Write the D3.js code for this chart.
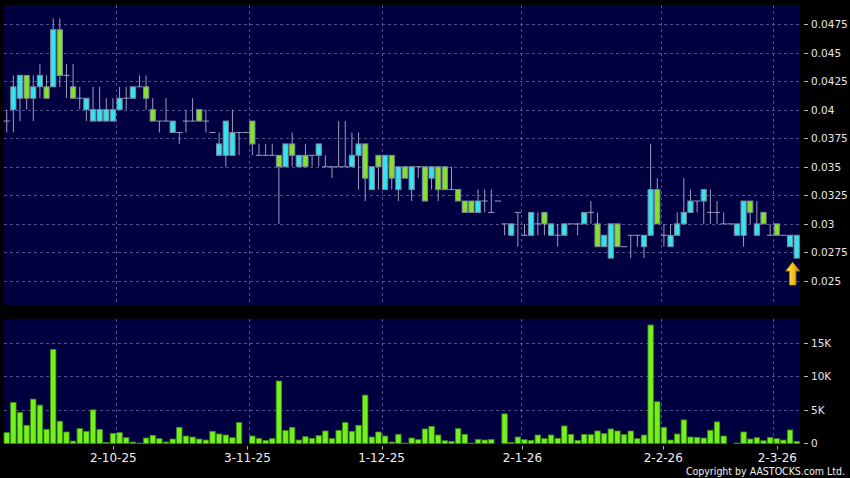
<!DOCTYPE html>
<html><head><meta charset="utf-8">
<script src="https://cdn.jsdelivr.net/npm/d3@7"></script>
<style>html,body{margin:0;padding:0;background:#000;} svg{display:block;}</style>
</head><body>
<svg id="c" width="850" height="478"></svg>
<script>
// ---- data (daily candles, oldest first) ----
const opens  = [.039,.040,.041,.043,.041,.042,.042,.042,.047,.043,.042,.041,.040,.039,.039,.039,.039,.040,.041,.041,
                .042,.042,.040,.039,.039,.038,.038,.039,.039,.040,.039,.038,.036,.036,.036,.038,.038,.039,.036,.036,
                .036,.036,.035,.037,.035,.036,.036,.036,.035,.035,.035,.035,.035,.036,.037,.033,.036,.033,.036,.033,
                .035,.033,.035,.035,.034,.035,.035,.033,.033,.032,.032,.031,.032,.031,.032,.030,.029,.031,.029,.029,
                .030,.031,.029,.029,.029,.030,.030,.030,.031,.030,.028,.027,.030,.028,.029,.029,.028,.029,.033,.029,
                .028,.029,.030,.031,.032,.032,.031,.031,.030,.030,.029,.029,.032,.029,.031,.029,.030,.029,.028,.027];
const highs  = [.040,.043,.043,.043,.043,.044,.043,.048,.048,.044,.044,.042,.041,.042,.042,.041,.041,.042,.042,.042,
                .043,.043,.041,.039,.041,.039,.038,.040,.041,.040,.040,.038,.038,.039,.040,.038,.038,.039,.037,.037,
                .037,.036,.037,.038,.036,.037,.036,.037,.036,.035,.039,.039,.038,.038,.037,.035,.036,.036,.036,.035,
                .035,.035,.035,.035,.035,.035,.035,.035,.033,.032,.032,.033,.033,.033,.032,.030,.030,.031,.030,.031,
                .031,.031,.030,.030,.030,.030,.030,.031,.032,.031,.029,.030,.030,.028,.029,.029,.029,.037,.034,.030,
                .030,.031,.034,.033,.032,.033,.033,.032,.031,.030,.030,.032,.032,.032,.031,.030,.030,.029,.029,.029];
const lows   = [.038,.038,.039,.040,.039,.041,.041,.042,.042,.041,.041,.040,.039,.039,.039,.039,.039,.040,.040,.041,
                .042,.040,.039,.038,.039,.038,.037,.038,.039,.039,.038,.038,.036,.035,.036,.036,.038,.036,.036,.036,
                .036,.030,.035,.035,.035,.035,.035,.035,.035,.034,.035,.035,.035,.033,.032,.033,.033,.033,.033,.032,
                .034,.032,.034,.032,.033,.032,.033,.033,.032,.031,.031,.031,.031,.031,.032,.029,.029,.028,.029,.029,
                .029,.029,.029,.028,.029,.030,.029,.030,.030,.028,.028,.027,.028,.028,.027,.028,.027,.029,.030,.028,
                .028,.029,.030,.031,.031,.030,.030,.030,.030,.030,.029,.028,.030,.029,.030,.029,.029,.029,.028,.027];
const closes = [.039,.042,.043,.041,.042,.043,.041,.047,.043,.043,.041,.041,.041,.040,.040,.040,.040,.041,.041,.042,
                .042,.041,.039,.039,.039,.039,.038,.039,.039,.039,.039,.038,.037,.039,.038,.038,.038,.037,.036,.036,
                .036,.035,.037,.036,.036,.035,.036,.037,.035,.035,.035,.035,.036,.037,.034,.035,.035,.036,.034,.035,
                .034,.035,.035,.032,.035,.033,.033,.033,.032,.031,.031,.032,.032,.031,.032,.030,.030,.031,.029,.031,
                .030,.030,.030,.029,.030,.030,.030,.031,.031,.028,.029,.030,.028,.028,.029,.029,.029,.033,.030,.029,
                .029,.030,.031,.032,.032,.033,.031,.031,.030,.030,.030,.032,.031,.030,.030,.029,.029,.029,.029,.029];
// volume in thousands of shares
const volumes = [1.6,6.1,4.6,2.7,6.6,5.7,2.1,14.0,3.3,1.7,0.35,2.2,1.8,5.0,2.1,0.15,1.5,1.6,0.85,0.2,
                 0.05,0.8,1.2,0.7,0.2,0.65,2.4,1.1,0.95,0.65,0.5,1.8,1.4,1.25,0.85,3.1,0,1.1,0.75,0.45,
                 0.7,9.3,1.9,2.4,0.5,1.0,0.75,1.15,1.85,0.7,1.95,3.1,1.8,2.7,7.2,0.95,1.7,1.1,0.2,1.35,
                 0.05,0.8,0.55,2.15,2.55,1.25,0.4,0.3,2.2,1.35,0.05,0.6,0.5,0.6,0,4.4,0.15,0.95,0.55,0.45,
                 1.25,0.7,1.25,0.75,2.6,1.35,0.45,1.35,1.3,1.85,1.45,2.15,1.85,1.3,1.85,0.7,1.25,17.65,6.2,2.4,
                 0.5,1.4,3.5,0.95,0.9,0.8,1.95,3.2,1.1,0,0.05,1.7,0.65,0.85,0.4,0.9,0.7,0.5,2.0,0.3];
const dateLabels = ["2-10-25","3-11-25","1-12-25","2-1-26","2-2-26","2-3-26"];
const dateIndex  = [16,36,56,77,98,115];
const priceTicks = [0.025,0.0275,0.03,0.0325,0.035,0.0375,0.04,0.0425,0.045,0.0475];
const priceTickLabels = ["0.025","0.0275","0.03","0.0325","0.035","0.0375","0.04","0.0425","0.045","0.0475"];
const volTicks = [0,5,10,15];
const volTickLabels = ["0","5K","10K","15K"];

// ---- layout ----
const svg = d3.select("#c");
const n = closes.length;
const panelL = 4, panelR = 800;
const pTop = 5, pBot = 305, vTop = 319, vBot = 444;
const NAVY = "#000040", GRID = "#50508c";
const UP = "#35e3f0", DOWN = "#84e22c", WICK = "#9c9cbc", EDGE = "#7c8a9a";

const x = d3.scaleBand().domain(d3.range(n)).range([3.4, 800]);
const step = x.step();
const cx = i => x(i) + step / 2;
const y = d3.scaleLinear().domain([0.022894, 0.049164]).range([pBot, pTop]);
const yv = d3.scaleLinear().domain([0, 18.55]).range([443.4, vTop]);
const xl = d3.scaleLinear().domain([0, n - 1]).range([6, 6 + 6.707 * (n - 1)]);
const px = v => Math.round(v) + 0.5;

// panels
svg.append("rect").attr("x", panelL).attr("y", pTop).attr("width", panelR - panelL).attr("height", pBot - pTop).attr("fill", NAVY);
svg.append("rect").attr("x", panelL).attr("y", vTop).attr("width", panelR - panelL).attr("height", vBot - vTop).attr("fill", NAVY);

const grid = svg.append("g").attr("stroke", GRID).attr("stroke-width", 1).attr("stroke-dasharray", "3,3");
priceTicks.forEach(t => grid.append("line").attr("x1", panelL).attr("x2", panelR).attr("y1", px(y(t))).attr("y2", px(y(t))));
volTicks.filter(t => t > 0).forEach(t => grid.append("line").attr("x1", panelL).attr("x2", panelR).attr("y1", px(yv(t))).attr("y2", px(yv(t))));
dateIndex.forEach(i => {
  const gx = px(x(i) + step);
  grid.append("line").attr("x1", gx).attr("x2", gx).attr("y1", pTop).attr("y2", pBot);
  grid.append("line").attr("x1", gx).attr("x2", gx).attr("y1", vTop).attr("y2", vBot);
});

// candles
const bw = 5.2;
const cg = svg.append("g");
d3.range(n).forEach(i => {
  const c = cx(i);
  cg.append("line").attr("x1", c).attr("x2", c).attr("y1", y(highs[i])).attr("y2", y(lows[i]))
    .attr("stroke", WICK).attr("stroke-width", 1);
  if (opens[i] === closes[i]) {
    cg.append("line").attr("x1", c - bw / 2 - 0.5).attr("x2", c + bw / 2 + 0.5)
      .attr("y1", y(opens[i])).attr("y2", y(opens[i])).attr("stroke", WICK).attr("stroke-width", 1);
  } else {
    const top = y(Math.max(opens[i], closes[i])), bot = y(Math.min(opens[i], closes[i]));
    cg.append("rect").attr("x", c - bw / 2).attr("y", top).attr("width", bw).attr("height", bot - top)
      .attr("fill", closes[i] > opens[i] ? UP : DOWN).attr("stroke", EDGE).attr("stroke-width", 1);
  }
});

// volume bars
const vb = 5.4;
svg.append("g").selectAll("rect").data(d3.range(n).filter(i => volumes[i] > 0)).join("rect")
  .attr("x", i => cx(i) - vb / 2)
  .attr("y", i => yv(volumes[i])).attr("width", vb).attr("height", i => yv(0) - yv(volumes[i]))
  .attr("fill", "#74f01e").attr("stroke", "#3f8f12").attr("stroke-width", 0.8);

// right axes
const ax = svg.append("g").attr("fill", "#e6e6e6").attr("font-family", "'DejaVu Sans', Verdana, sans-serif").attr("font-size", "10.5px");
priceTicks.forEach((t, k) => {
  ax.append("line").attr("x1", 804).attr("x2", 808).attr("y1", px(y(t))).attr("y2", px(y(t))).attr("stroke", "#bbbbbb");
  ax.append("text").attr("x", 811).attr("y", y(t) + 4).text(priceTickLabels[k]);
});
volTicks.forEach((t, k) => {
  ax.append("line").attr("x1", 804).attr("x2", 808).attr("y1", px(yv(t))).attr("y2", px(yv(t))).attr("stroke", "#bbbbbb");
  ax.append("text").attr("x", 811).attr("y", yv(t) + 4).text(volTickLabels[k]);
});

// date axis
const dx = svg.append("g").attr("fill", "#f0f0f0").attr("font-family", "'DejaVu Sans', Verdana, sans-serif").attr("font-size", "12px").attr("text-anchor", "middle");
dateIndex.forEach((i, k) => {
  const lx = xl(i);
  dx.append("line").attr("x1", px(lx)).attr("x2", px(lx)).attr("y1", 446).attr("y2", 449.5).attr("stroke", "#aaaaaa");
  dx.append("text").attr("x", lx).attr("y", 462).text(dateLabels[k]);
});

// copyright
svg.append("text").attr("x", 845).attr("y", 475).attr("text-anchor", "end")
  .attr("fill", "#f0f0f0").attr("font-family", "'DejaVu Sans Condensed', sans-serif")
  .attr("font-size", "10.5px").text("Copyright by AASTOCKS.com Ltd.");

// last-price arrow marker
const defs = svg.append("defs");
const gr = defs.append("linearGradient").attr("id", "ag").attr("x1", "0").attr("x2", "1").attr("y1", "0").attr("y2", "0");
gr.append("stop").attr("offset", "0").attr("stop-color", "#fff07a");
gr.append("stop").attr("offset", "0.5").attr("stop-color", "#f6c419");
gr.append("stop").attr("offset", "1").attr("stop-color", "#d18f00");
const ai = n - 1, axc = cx(ai) - 4, aty = y(lows[ai]) + 4;
svg.append("path")
  .attr("d", `M${axc},${aty} L${axc + 7},${aty + 9} L${axc + 3.3},${aty + 9} L${axc + 3.3},${aty + 23} L${axc - 3.3},${aty + 23} L${axc - 3.3},${aty + 9} L${axc - 7},${aty + 9} Z`)
  .attr("fill", "url(#ag)").attr("stroke", "#a86c00").attr("stroke-width", 0.8);
</script>
</body></html>
